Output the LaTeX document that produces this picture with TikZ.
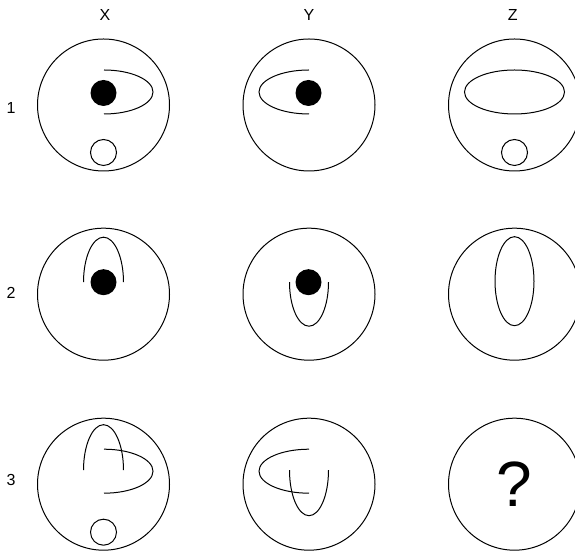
\documentclass[tikz,border=0pt]{standalone}
\usepackage{fontspec}
\setmainfont{Liberation Sans}
\usetikzlibrary{positioning}

\begin{document}
\begin{tikzpicture}[x=1pt, y=1pt, line width=1pt,
	cell/.style={draw, circle, minimum size=132pt, inner sep=0pt},
	dot/.style={fill=black},
	hole/.style={draw},
	lbl/.style={font=\fontsize{16}{19}\selectfont}]
	\useasboundingbox (0,0) rectangle (575,553);

	% 3x3 grid of circles, columns X Y Z, rows 1 2 3
	\node[cell] (x1) at (103.5,448) {};
	\node[cell] (y1) at (309,448) {};
	\node[cell] (z1) at (514.5,448) {};
	\node[cell] (x2) at (103.5,258.8) {};
	\node[cell] (y2) at (309,258.8) {};
	\node[cell] (z2) at (514.5,258.8) {};
	\node[cell] (x3) at (103.5,68.8) {};
	\node[cell] (y3) at (309,68.8) {};
	\node[cell, font=\fontsize{64}{70}\selectfont] (z3) at (514.5,68.8) {?};

	% column and row labels
	\node[lbl] (colx) at (105,538) {X};
	\node[lbl] (coly) at (309,538) {Y};
	\node[lbl] (colz) at (512.7,538) {Z};
	\node[lbl] (row1) at (11,445) {1};
	\node[lbl] (row2) at (11,260) {2};
	\node[lbl] (row3) at (11,73) {3};

	% row 1
	\fill[dot] ([shift={(0,12)}]x1.center) circle (13);
	\draw[hole] ([shift={(0,-47.5)}]x1.center) circle (13);
	\draw ([shift={(0.5,35)}]x1.center) arc[start angle=90, end angle=-90, x radius=49, y radius=22];
	\fill[dot] ([shift={(-0.5,12)}]y1.center) circle (13);
	\draw ([shift={(0,35)}]y1.center) arc[start angle=90, end angle=270, x radius=50, y radius=22];
	\draw ([shift={(0,13)}]z1.center) ellipse[x radius=50, y radius=22];
	\draw[hole] ([shift={(0,-47.5)}]z1.center) circle (13);

	% row 2
	\fill[dot] ([shift={(0,12)}]x2.center) circle (13);
	\draw ([shift={(20,12)}]x2.center) arc[start angle=0, end angle=180, x radius=20, y radius=45];
	\fill[dot] ([shift={(-0.5,12)}]y2.center) circle (13);
	\draw ([shift={(-19.5,12)}]y2.center) arc[start angle=180, end angle=360, x radius=19.5, y radius=44];
	\draw ([shift={(0,13)}]z2.center) ellipse[x radius=19.5, y radius=44.5];

	% row 3
	\draw ([shift={(20,14)}]x3.center) arc[start angle=0, end angle=180, x radius=20, y radius=45.5];
	\draw ([shift={(0.5,35)}]x3.center) arc[start angle=90, end angle=-90, x radius=49, y radius=22];
	\draw[hole] ([shift={(0,-48)}]x3.center) circle (13);
	\draw ([shift={(0,35)}]y3.center) arc[start angle=90, end angle=270, x radius=50, y radius=22];
	\draw ([shift={(-19.5,14)}]y3.center) arc[start angle=180, end angle=360, x radius=19.5, y radius=45.5];
\end{tikzpicture}
\end{document}
